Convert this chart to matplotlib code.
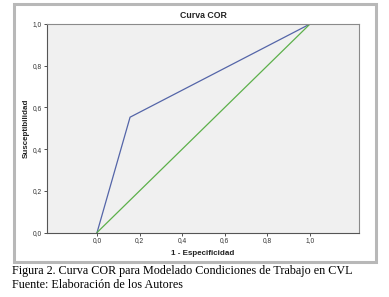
import matplotlib
matplotlib.use("Agg")
import matplotlib.pyplot as plt
from matplotlib.patches import Rectangle

fpr = [0.0, 0.155, 1.0]
tpr = [0.0, 0.553, 1.0]
ref_x = [0.0, 1.0]
ref_y = [0.0, 1.0]
ticks = [0.0, 0.2, 0.4, 0.6, 0.8, 1.0]
tick_labels = ["0,0", "0,2", "0,4", "0,6", "0,8", "1,0"]

plt.rcParams["font.family"] = ["Liberation Sans", "DejaVu Sans"]

W, H = 389, 297
fig = plt.figure(figsize=(W/100, H/100), dpi=100)
fig.patch.set_facecolor("white")

# outer frame
fig.add_artist(Rectangle((13.5/W, 1-261.5/H), (376-13.5)/W, (261.5-4)/H,
                         transform=fig.transFigure, fill=False,
                         edgecolor="#b8b8b8", linewidth=2.2))

ax = fig.add_axes([47/W, 1-232.5/H, (359-47)/W, (232.5-24)/H])
ax.set_facecolor("#f0f0f0")
ax.plot(fpr, tpr, color="#5465a8", linewidth=0.9)
ax.plot(ref_x, ref_y, color="#5cb04a", linewidth=0.9)
ax.set_xlim(-0.235, 1.23)
ax.set_ylim(0.0, 1.0)
ax.set_xticks(ticks)
ax.set_xticklabels(tick_labels)
ax.set_yticks(ticks)
ax.set_yticklabels(tick_labels)
ax.tick_params(axis="both", labelsize=4.8, length=2, width=0.6,
               colors="#333333", pad=1.5)
for s in ax.spines.values():
    s.set_color("#8a8a8a")
    s.set_linewidth(0.8)
ax.spines["left"].set_color("#555555")
ax.spines["bottom"].set_color("#555555")

ax.set_title("Curva COR", fontsize=6.3, fontweight="bold", color="#222222", pad=4)
ax.set_xlabel("1 - Especificidad", fontsize=5.8, fontweight="bold", color="#222222", labelpad=4)
ax.set_ylabel("Susceptibilidad", fontsize=5.8, fontweight="bold", color="#222222", labelpad=2)

fig.text(12/W, 1-271/H, "Figura 2. Curva COR para Modelado Condiciones de Trabajo en CVL",
         family="Liberation Serif", fontsize=8.75, va="center", ha="left", color="black")
fig.text(12/W, 1-285/H, "Fuente: Elaboración de los Autores",
         family="Liberation Serif", fontsize=8.75, va="center", ha="left", color="black")

fig.savefig("out.png", dpi=100)
